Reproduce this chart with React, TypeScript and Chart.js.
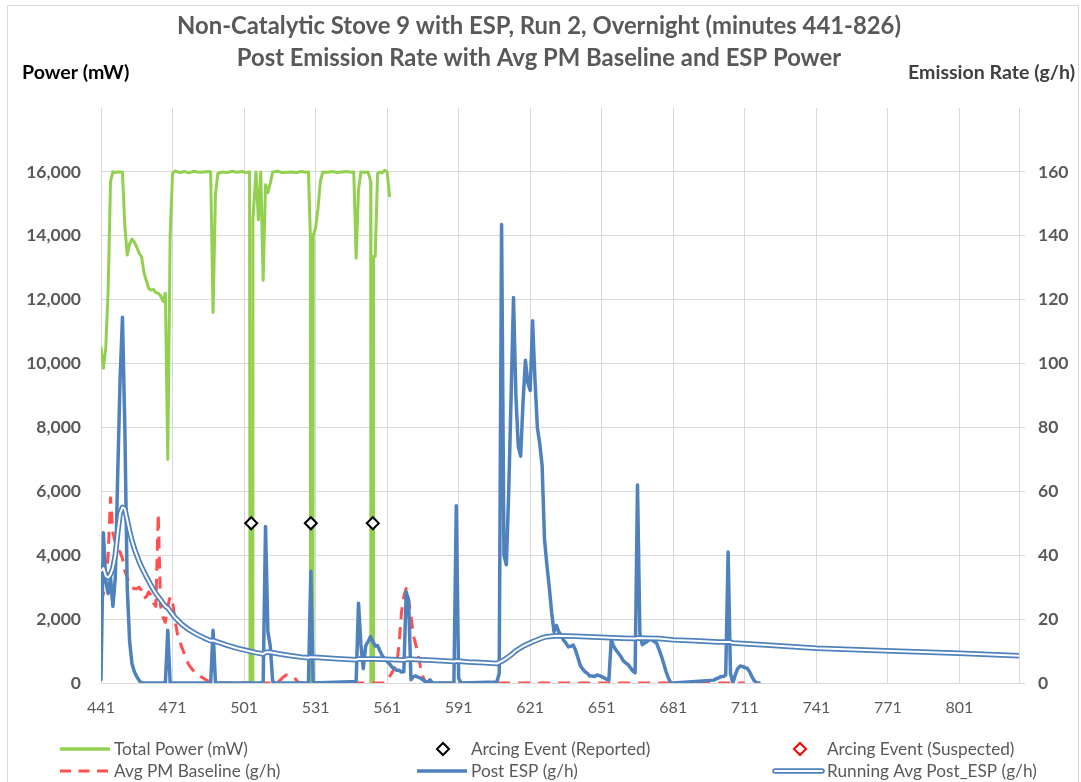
import React, { useEffect, useRef } from 'react';
import { Chart, registerables } from 'chart.js';

Chart.register(...registerables);

// ---------- Text ----------
const titleLines = [
  'Non-Catalytic Stove 9 with ESP, Run 2, Overnight (minutes 441-826)',
  'Post Emission Rate with Avg PM Baseline and ESP Power',
];
const leftAxisTitle = 'Power (mW)';
const rightAxisTitle = 'Emission Rate (g/h)';

// ---------- Axes ----------
const xTickValues = [441, 471, 501, 531, 561, 591, 621, 651, 681, 711, 741, 771, 801];
const leftTickValues = [0, 2000, 4000, 6000, 8000, 10000, 12000, 14000, 16000];
const rightTickValues = [0, 20, 40, 60, 80, 100, 120, 140, 160];

// ---------- Total Power (mW) ----------
const powerMinutes = [441, 442, 443, 444, 445, 446, 447, 448, 449, 450, 451, 452, 453, 454, 455, 456, 457, 458, 459, 460, 461, 462, 463, 464, 465, 466, 467, 468, 469, 470, 471, 472, 474, 476, 478, 480, 482, 484, 486, 487, 488, 489, 490, 492, 494, 496, 498, 500, 502, 503.3, 503.5, 504.5, 504.7, 506, 507, 508, 509, 510, 511, 512, 513, 515, 517, 519, 521, 523, 525, 527, 528, 528.8, 528.9, 529.9, 530, 531, 532, 533, 534, 536, 538, 540, 542, 544, 546, 547, 548, 549, 550, 552, 553, 554.1, 554.2, 555.2, 555.3, 556, 557, 558, 559, 560, 561, 562];
const powerValues = [10500, 9850, 10500, 12300, 15700, 16000, 15980, 16000, 16000, 15990, 14300, 13400, 13750, 13900, 13800, 13650, 13450, 13350, 12850, 12600, 12350, 12300, 12320, 12220, 12200, 12120, 11950, 12200, 7000, 14000, 15950, 16030, 15980, 16010, 15970, 16020, 15990, 16000, 16010, 16000, 11600, 15300, 15950, 16000, 15980, 16020, 15990, 16010, 15980, 16000, 0, 0, 14500, 16000, 14500, 16000, 12600, 15600, 15350, 15650, 16000, 16020, 15980, 15990, 16000, 15980, 16010, 15990, 16000, 14000, 0, 0, 14000, 14250, 14850, 15700, 16000, 15990, 16010, 15980, 16000, 16010, 15990, 16000, 13300, 15450, 16000, 15990, 16000, 15700, 0, 0, 13350, 13350, 15950, 16000, 15970, 16050, 16000, 15250];

// ---------- Arcing events ----------
const arcReportedMinutes = [504, 529, 555];
const arcReportedValues = [5000, 5000, 5000];
const arcSuspectedMinutes: number[] = [];
const arcSuspectedValues: number[] = [];

// ---------- Avg PM Baseline (g/h) ----------
const baselineMinutes = [441, 442, 443, 444, 445, 446, 447, 448, 449, 450, 451, 452, 453, 454, 455, 456, 457, 458, 459, 460, 461, 462, 463, 464, 465, 466, 467, 468, 469, 470, 471, 472, 473, 474, 475, 476, 477, 478, 479, 480, 481, 482, 483, 484, 485, 486, 487, 488, 515, 516, 517, 518, 519, 520, 521, 522, 523, 524, 560, 561, 562, 563, 564, 565, 566, 567, 568, 569, 570, 571, 572, 573, 574, 575, 576, 577, 578, 711];
const baselineValues = [25, 28, 32, 40, 58, 47, 44, 42, 41, 39, 35, 33, 31, 30, 29.5, 29.5, 30, 29, 26.5, 27, 28.5, 27.5, 25, 24, 53, 24, 20.5, 19, 24, 27, 25.5, 20, 15.5, 13, 11, 9, 7, 5.5, 4.5, 3.7, 3, 2.4, 1.9, 1.5, 1, 0.6, 0.3, 0, 0, 0.8, 1.5, 2.2, 2.5, 2.3, 2, 1.9, 0.8, 0, 0, 0.8, 2, 3.2, 4.5, 6, 12, 22, 27, 29.6, 26, 21, 15, 12, 9, 5, 2, 0.4, 0, 0];

// ---------- Post ESP (g/h) ----------
const postMinutes = [441, 442, 443, 444, 445, 446, 447, 448, 449, 450, 451, 452, 453, 454, 455, 456, 457, 458, 468, 469, 470, 487, 488, 489, 509, 510, 511, 512, 513, 514, 528, 529, 530, 548, 549, 550, 551, 552, 553, 554, 555, 556, 557, 558, 559, 560, 561, 562, 563, 564, 565, 566, 567, 568, 569, 570, 571, 572, 573, 574, 575, 576, 577, 578, 579, 580, 589, 590, 591, 592, 607, 608, 609, 610, 611, 612, 613, 614, 615, 616, 617, 618, 619, 620, 621, 622, 623, 624, 625, 626, 627, 628, 629, 630, 631, 632, 633, 634, 635, 636, 637, 638, 639, 640, 641, 642, 643, 644, 645, 646, 647, 648, 649, 650, 651, 652, 653, 654, 655, 656, 657, 658, 659, 660, 661, 662, 663, 664, 665, 666, 667, 668, 669, 670, 671, 672, 673, 674, 675, 676, 677, 678, 679, 680, 681, 698, 699, 700, 701, 702, 703, 704, 705, 706, 707, 708, 709, 710, 711, 712, 713, 714, 715, 716, 717, 826];
const postValues = [1, 47, 32, 28, 33, 24, 33, 65, 95, 114.5, 80, 30, 13, 6, 3.5, 2, 0.8, 0, 0, 16.5, 0, 0, 16.5, 0, 0, 49, 16, 11.5, 0.5, 0, 0, 35, 0, 0.5, 25, 12, 4.5, 11.6, 13, 14.5, 13, 11.6, 11.7, 10, 8.5, 7.5, 6.7, 6, 5, 4.5, 4, 4, 3.4, 3.5, 28.5, 26, 1, 2, 2.2, 1.8, 1.5, 1, 0.4, 0.3, 1, 0, 0, 55.5, 1.5, 0, 0.3, 3, 143.5, 40, 37, 60, 90, 120.7, 90, 74, 71, 88, 101, 94, 91.6, 113.4, 95, 80, 75, 68, 45, 37, 30, 22, 16, 18, 16, 15, 13.4, 12.5, 11.3, 11.5, 11.9, 10.3, 8, 5.5, 4.4, 3.5, 3, 2.2, 2.2, 2, 2.5, 2.3, 2, 1.6, 1.2, 0.9, 13.6, 11.5, 10.3, 9.3, 8.3, 7, 6.3, 5.8, 4.8, 3.8, 3.2, 62, 15.5, 12, 12.5, 13, 13.6, 13.5, 13, 12.5, 10.5, 8.5, 6, 3.5, 1.5, 0, 0, 0.9, 1.3, 1.6, 2, 2, 2.5, 41, 3, 0, 2.5, 4.5, 5.3, 5.2, 4.8, 4.6, 3.5, 2, 0.7, 0, 0];

// ---------- Running Avg Post_ESP (g/h) ----------
const avgMinutes = [441, 442, 443, 444, 445, 446, 447, 448, 449, 450, 451, 452, 453, 454, 455, 456, 457, 458, 459, 460, 462, 464, 466, 468, 469, 470, 472, 475, 478, 481, 484, 487, 488, 490, 494, 498, 502, 506, 509, 510, 512, 516, 520, 525, 528, 529, 532, 540, 548, 549, 555, 560, 568, 570, 575, 580, 589, 590, 595, 600, 607, 609, 611, 613, 615, 618, 622, 626, 628, 632, 640, 650, 660, 665, 666, 670, 675, 681, 690, 700, 705, 706, 720, 741, 770, 801, 826];
const avgValues = [35, 36, 33.5, 33, 34, 36, 40, 47, 53, 55, 54.5, 51, 47.5, 44.5, 42, 40, 38, 36.3, 34.8, 33.3, 30.5, 28, 26, 24, 23.5, 22.5, 20.5, 18.3, 16.6, 15.3, 14.2, 13.2, 13.3, 12.8, 11.8, 10.9, 10.2, 9.5, 9.1, 9.6, 9.6, 9.1, 8.6, 8.1, 7.9, 8.1, 8.0, 7.6, 7.3, 7.5, 7.5, 7.4, 7.2, 7.5, 7.3, 7.1, 6.7, 6.9, 6.6, 6.4, 6.1, 6.8, 7.7, 8.8, 10.1, 11.5, 12.9, 14.1, 14.5, 14.8, 14.6, 14.3, 14.0, 13.9, 14.1, 14.0, 13.9, 13.5, 13.2, 12.8, 12.8, 12.5, 11.9, 10.9, 10.1, 9.3, 8.5];

// ---------- Styles ----------
const GREEN = '#92d050';
const RED = '#ff4f4f';
const BLUE = '#4f81bd';
const GRID = '#d9d9d9';
const TEXT = '#595959';
const FONT = 'Lato';

const toPoints = (xs: number[], ys: number[]) => xs.map((x, i) => ({ x, y: ys[i] }));

function fitSize(ctx: CanvasRenderingContext2D, text: string, weight: string, target: number) {
  ctx.font = `${weight} 100px ${FONT}`;
  const w = ctx.measureText(text).width;
  return (100 * target) / w;
}

const overlayPlugin = {
  id: 'overlay',
  afterDraw(chart: any) {
    const ctx: CanvasRenderingContext2D = chart.ctx;
    ctx.save();
    // chart border
    ctx.strokeStyle = GRID;
    ctx.lineWidth = 1;
    ctx.strokeRect(7.5, 5.5, 1071, 800);

    // title
    ctx.fillStyle = TEXT;
    ctx.textBaseline = 'middle';
    ctx.textAlign = 'center';
    const tSize = fitSize(ctx, titleLines[0], 'bold', 724);
    ctx.font = `bold ${tSize}px ${FONT}`;
    ctx.fillText(titleLines[0], 539, 26);
    ctx.fillText(titleLines[1], 539, 58);

    // axis titles
    const aSize = fitSize(ctx, rightAxisTitle, 'bold', 167);
    ctx.font = `bold ${aSize}px ${FONT}`;
    ctx.textAlign = 'left';
    ctx.fillStyle = '#000000';
    ctx.fillText(leftAxisTitle, 22, 73);
    ctx.textAlign = 'right';
    ctx.fillStyle = '#404040';
    ctx.fillText(rightAxisTitle, 1075, 73);

    // legend
    const ds = chart.data.datasets;
    const lSize = fitSize(ctx, ds[6].label, 'normal', 210);
    ctx.font = `normal ${lSize}px ${FONT}`;
    ctx.textAlign = 'left';
    ctx.fillStyle = TEXT;
    const r1 = 749;
    const r2 = 771;
    const line = (x1: number, x2: number, y: number, color: string, w: number, dash: number[] = [], cap: CanvasLineCap = 'butt') => {
      ctx.save();
      ctx.strokeStyle = color;
      ctx.lineWidth = w;
      ctx.setLineDash(dash);
      ctx.lineCap = cap;
      ctx.beginPath();
      ctx.moveTo(x1, y);
      ctx.lineTo(x2, y);
      ctx.stroke();
      ctx.restore();
    };
    const diamond = (x: number, y: number, color: string) => {
      ctx.save();
      ctx.strokeStyle = color;
      ctx.fillStyle = '#ffffff';
      ctx.lineWidth = 2;
      ctx.beginPath();
      ctx.moveTo(x - 6, y);
      ctx.lineTo(x, y - 6);
      ctx.lineTo(x + 6, y);
      ctx.lineTo(x, y + 6);
      ctx.closePath();
      ctx.fill();
      ctx.stroke();
      ctx.restore();
    };
    // row 1
    line(60, 110, r1, GREEN, 3.5);
    ctx.fillText(ds[0].label, 114, r1);
    diamond(443, r1, '#000000');
    ctx.fillText(ds[1].label, 471, r1);
    diamond(800, r1, '#ff0000');
    ctx.fillText(ds[2].label, 827, r1);
    // row 2
    line(60, 110, r2, RED, 3, [11, 7.5]);
    ctx.fillText(ds[3].label, 114, r2);
    line(417, 467, r2, BLUE, 3.5);
    ctx.fillText(ds[4].label, 471, r2);
    line(775, 822, r2, BLUE, 5.5, [], 'round');
    line(775, 822, r2, '#ffffff', 2, [], 'round');
    ctx.fillText(ds[6].label, 827, r2);
    ctx.restore();
  },
};

export default function App() {
  const canvasRef = useRef<HTMLCanvasElement | null>(null);

  useEffect(() => {
    const canvas = canvasRef.current;
    if (!canvas) return;
    const chart = new Chart(canvas, {
      type: 'line',
      data: {
        datasets: [
          {
            label: 'Total Power (mW)',
            data: toPoints(powerMinutes, powerValues),
            yAxisID: 'y',
            borderColor: GREEN,
            backgroundColor: GREEN,
            borderWidth: 3,
            pointRadius: 0,
            borderJoinStyle: 'round',
            borderCapStyle: 'round',
            order: 6,
          },
          {
            label: 'Arcing Event (Reported)',
            data: toPoints(arcReportedMinutes, arcReportedValues),
            yAxisID: 'y',
            showLine: false,
            pointStyle: 'rectRot',
            pointRadius: 6,
            pointBorderWidth: 2,
            pointBorderColor: '#000000',
            pointBackgroundColor: '#ffffff',
            order: 0,
          },
          {
            label: 'Arcing Event (Suspected)',
            data: toPoints(arcSuspectedMinutes, arcSuspectedValues),
            yAxisID: 'y',
            showLine: false,
            pointStyle: 'rectRot',
            pointRadius: 6,
            pointBorderWidth: 2,
            pointBorderColor: '#ff0000',
            pointBackgroundColor: '#ffffff',
            order: 0,
          },
          {
            label: 'Avg PM Baseline (g/h)',
            data: toPoints(baselineMinutes, baselineValues),
            yAxisID: 'y1',
            borderColor: RED,
            borderWidth: 3,
            borderDash: [12, 8],
            pointRadius: 0,
            borderJoinStyle: 'round',
            order: 5,
          },
          {
            label: 'Post ESP (g/h)',
            data: toPoints(postMinutes, postValues),
            yAxisID: 'y1',
            borderColor: BLUE,
            borderWidth: 3.5,
            pointRadius: 0,
            borderJoinStyle: 'round',
            borderCapStyle: 'round',
            order: 4,
          },
          {
            label: 'Running Avg Post_ESP (g/h) outer',
            data: toPoints(avgMinutes, avgValues),
            yAxisID: 'y1',
            borderColor: BLUE,
            borderWidth: 5.5,
            pointRadius: 0,
            borderJoinStyle: 'round',
            order: 3,
          },
          {
            label: 'Running Avg Post_ESP (g/h)',
            data: toPoints(avgMinutes, avgValues),
            yAxisID: 'y1',
            borderColor: '#ffffff',
            borderWidth: 2,
            pointRadius: 0,
            borderJoinStyle: 'round',
            order: 2,
          },
        ],
      },
      options: {
        responsive: false,
        animation: false,
        devicePixelRatio: 1,
        events: [],
        layout: { padding: { top: 108, left: 0, right: 0, bottom: 0 } },
        plugins: {
          legend: { display: false },
          title: { display: false },
          tooltip: { enabled: false },
        },
        scales: {
          x: {
            type: 'linear',
            min: 441,
            max: 826,
            afterBuildTicks: (scale: any) => {
              scale.ticks = xTickValues.map((v) => ({ value: v }));
            },
            afterFit: (scale: any) => {
              scale.height = 99;
            },
            ticks: {
              autoSkip: false,
              maxRotation: 0,
              padding: 15,
              color: TEXT,
              font: { family: FONT, size: 16 },
              callback: (v: any) => String(v),
            },
            grid: { color: GRID, lineWidth: 1, drawTicks: false },
            border: { display: true, color: GRID, width: 1 },
          },
          y: {
            type: 'linear',
            position: 'left',
            min: 0,
            max: 18000,
            afterBuildTicks: (scale: any) => {
              scale.ticks = leftTickValues.map((v) => ({ value: v }));
            },
            afterFit: (scale: any) => {
              scale.width = 101;
            },
            ticks: {
              padding: 20,
              color: TEXT,
              font: { family: FONT, size: 17.5, weight: 'bold' },
              callback: (v: any) => Number(v).toLocaleString('en-US'),
            },
            grid: { color: GRID, lineWidth: 1, drawTicks: false },
            border: { display: true, color: GRID, width: 1 },
          },
          y1: {
            type: 'linear',
            position: 'right',
            min: 0,
            max: 180,
            afterBuildTicks: (scale: any) => {
              scale.ticks = rightTickValues.map((v) => ({ value: v }));
            },
            afterFit: (scale: any) => {
              scale.width = 62;
            },
            ticks: {
              padding: 13,
              color: TEXT,
              font: { family: FONT, size: 17.5, weight: 'bold' },
              callback: (v: any) => String(v),
            },
            grid: { drawOnChartArea: false, drawTicks: true, tickLength: 6, color: GRID, lineWidth: 1 },
            border: { display: true, color: GRID, width: 1 },
          },
        },
      } as any,
      plugins: [overlayPlugin],
    });
    return () => chart.destroy();
  }, []);

  return (
    <div style={{ position: 'fixed', left: 0, top: 0, width: 1081, height: 782, background: '#ffffff' }}>
      <canvas ref={canvasRef} width={1081} height={782} style={{ display: 'block', width: 1081, height: 782 }} />
    </div>
  );
}
